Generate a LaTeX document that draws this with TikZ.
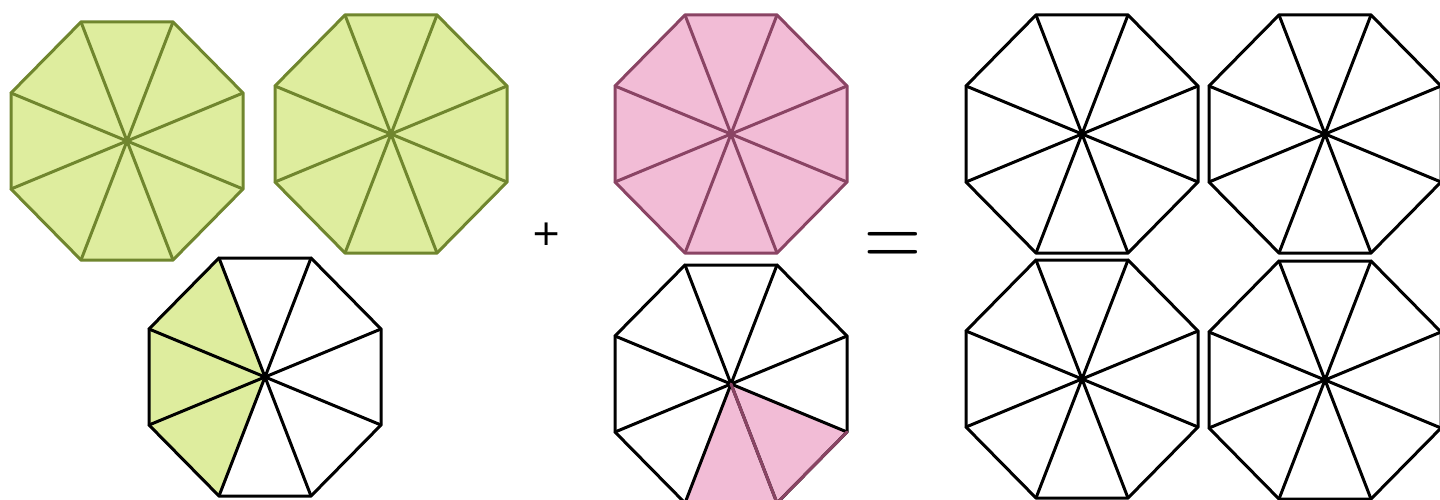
\documentclass[tikz,border=0pt]{standalone}
\usepackage{fontspec}
\usepackage{tikz}
\newfontfamily\signfont{DejaVu Sans}
\definecolor{gfill}{RGB}{222,237,158}
\definecolor{gline}{RGB}{112,134,46}
\definecolor{pfill}{RGB}{242,188,214}
\definecolor{pline}{RGB}{138,68,100}
\tikzset{
  edge/.style={line width=3pt, line join=round, line cap=round},
  sign/.style={inner sep=0pt, anchor=center, text=black}
}
\newcommand\octo[3]{%
  \begin{scope}[shift={(#2,#3)}]
    \coordinate (#1c) at (0,0);
    \coordinate (#1v1) at (-46,-119);
    \coordinate (#1v2) at (46,-119);
    \coordinate (#1v3) at (116,-48);
    \coordinate (#1v4) at (116,48);
    \coordinate (#1v5) at (46,119);
    \coordinate (#1v6) at (-46,119);
    \coordinate (#1v7) at (-116,48);
    \coordinate (#1v8) at (-116,-48);
  \end{scope}}
\newcommand\octfill[2]{%
  \fill[#2] (#1v1)--(#1v2)--(#1v3)--(#1v4)--(#1v5)--(#1v6)--(#1v7)--(#1v8)--cycle;}
\newcommand\octdraw[2]{%
  \draw[edge,#2] (#1v1)--(#1v2)--(#1v3)--(#1v4)--(#1v5)--(#1v6)--(#1v7)--(#1v8)--cycle;
  \foreach \k in {1,...,8} {\draw[edge,#2] (#1c)--(#1v\k);}}
\begin{document}
\begin{tikzpicture}[x=1pt,y=-1pt]
\useasboundingbox (0,0) rectangle (1440,500);
\octo{a}{127}{141}
\octo{b}{391}{134}
\octo{d}{265}{377}
\octo{e}{731}{134}
\octo{f}{731}{384}
\octo{g}{1082}{134}
\octo{h}{1325}{134}
\octo{i}{1082}{379}
\octo{j}{1325}{380}
% green wholes
\octfill{a}{gfill}\octdraw{a}{gline}
\octfill{b}{gfill}\octdraw{b}{gline}
% green part
\fill[gfill] (dc)--(dv1)--(dv8)--(dv7)--(dv6)--cycle;
\octdraw{d}{black}
% pink whole
\octfill{e}{pfill}\octdraw{e}{pline}
% pink part
\fill[pfill] (fc)--(fv6)--(fv5)--(fv4)--cycle;
\octdraw{f}{black}
\draw[edge,pline] (fv6)--(fv5)--(fv4);
\draw[edge,pline] (fc)--(fv5);
% results
\octdraw{g}{black}
\octdraw{h}{black}
\octdraw{i}{black}
\octdraw{j}{black}
% signs
\node[sign, font=\fontsize{36}{40}\signfont] (plus) at (547,234) {+};
\node[sign, font=\fontsize{75}{80}\selectfont, xscale=1.05, yscale=1.35] (eq) at (893,250) {=};
\end{tikzpicture}
\end{document}
